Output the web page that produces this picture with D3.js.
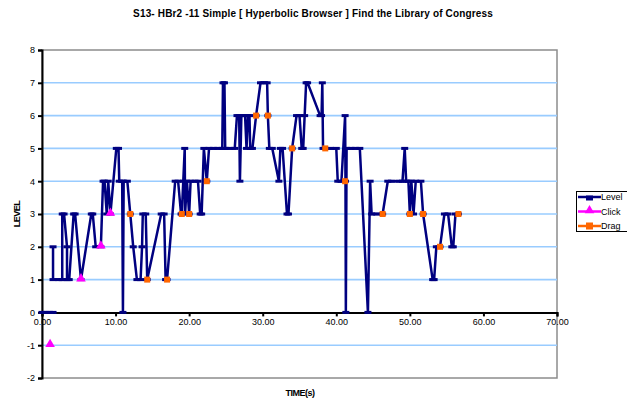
<!DOCTYPE html>
<html><head><meta charset="utf-8">
<script src="https://cdn.jsdelivr.net/npm/d3@7"></script>
<style>body{margin:0;background:#fff}svg{display:block}text{font-family:Arial,"Liberation Sans",sans-serif}</style>
</head><body><svg id="c" width="627" height="400"></svg>
<script>
const titleText = "S13- HBr2 -11 Simple [ Hyperbolic Browser ] Find the Library of Congress";
const xTicks = [0,10,20,30,40,50,60,70];
const yTicks = [-2,-1,0,1,2,3,4,5,6,7,8];
const gridValues = [-1,1,2,3,4,5,6,7];
const seriesNames = ["Level","Click","Drag"];

const levelTime = [0.0,0.5,1.0,1.5,null,1.5,1.5,2.3,2.75,2.75,3.0,3.4,3.4,3.7,4.3,4.5,5.3,6.7,6.9,7.3,8.0,8.3,8.5,8.8,9.0,9.3,
 10.1,10.4,10.5,10.9,11.0,11.1,11.6,12.0,12.4,12.9,13.4,13.6,13.7,14.1,14.3,16.2,16.6,16.8,17.0,18.1,18.5,18.9,19.0,19.2,19.4,19.45,19.7,
 20.0,20.2,20.8,21.2,21.5,21.7,22.0,22.4,22.7,23.3,23.9,24.5,24.6,24.8,24.9,25.5,26.2,26.5,26.8,26.9,27.1,27.6,27.8,28.0,28.2,28.3,28.6,29.1,29.7,
 30.2,30.6,30.7,30.9,31.3,32.2,32.4,32.7,33.3,33.5,34.0,34.6,35.0,35.3,35.5,35.7,35.9,36.1,37.8,38.0,38.1,38.2,38.5,39.2,
 40.0,40.2,40.7,41.2,41.25,41.3,41.4,42.0,42.6,43.2,44.3,44.6,44.8,45.5,46.3,47.0,47.5,48.5,49.0,49.3,49.5,49.8,
 50.0,50.2,50.5,50.8,51.5,51.8,53.1,53.3,53.6,54.1,54.7,55.2,55.7,55.9,56.2,56.6];
const levelValue = [0,0,0,0,null,2,1,1,1,3,3,2,1,1,3,3,1,3,3,2,2,4,4,3,4,3,
 5,5,4,4,0,4,4,3,2,1,1,2,3,3,1,3,3,1,1,4,4,3,3,4,5,3,4,
 3,4,4,4,3,3,5,4,5,5,5,5,7,7,5,5,5,6,6,4,6,6,5,6,6,5,5,6,7,
 7,7,6,5,5,4,5,5,3,3,5,6,6,5,5,6,7,7,6,6,7,5,5,5,
 5,4,4,6,4,0,5,5,5,5,0,4,3,3,3,4,4,4,4,5,4,4,
 3,4,3,4,4,3,1,1,2,2,3,3,2,2,3,3];

const clickTime = [1.1,5.3,8.0,9.3];
const clickValue = [-1,1,2,3];

const dragTime = [12.0,14.3,17.0,19.0,20.0,22.4,29.1,30.7,34.0,38.5,41.2,46.3,50.0,51.8,54.1,56.6];
const dragValue = [3,1,1,3,3,4,6,6,5,5,4,3,3,3,2,3];

const colors = {Level:"#000080", Click:"#FF00FF", Drag:"#FF6600"};

const svg = d3.select("#c");
const x = d3.scaleLinear().domain([0,70]).range([42,557]);
const y = d3.scaleLinear().domain([-2,8]).range([378,50]);

// plot border
svg.append("rect").attr("x",x(0)).attr("y",y(8)).attr("width",x(70)-x(0)).attr("height",y(-2)-y(8))
  .attr("fill","#fff").attr("stroke","#8c8c8c").attr("stroke-width",1.5);

// gridlines
svg.append("g").selectAll("line").data(gridValues).join("line")
  .attr("x1",x(0)).attr("x2",x(70)).attr("y1",d=>y(d)).attr("y2",d=>y(d))
  .attr("stroke","#99CCFF").attr("stroke-width",1.6);

// axes
const yAxis = svg.append("g").attr("transform",`translate(${x(0)},0)`)
  .call(d3.axisLeft(y).tickValues(yTicks).tickSize(4).tickPadding(3).tickFormat(d=>d));
const xAxis = svg.append("g").attr("transform",`translate(0,${y(0)})`)
  .call(d3.axisBottom(x).tickValues(xTicks).tickSize(4).tickPadding(3).tickFormat(d3.format(".2f")));
[yAxis,xAxis].forEach(g=>{
  g.select(".domain").attr("stroke","#000").attr("stroke-width",2);
  g.selectAll(".tick line").attr("stroke","#000").attr("stroke-width",2);
  g.selectAll("text").attr("font-size",9).attr("fill","#000");
});
xAxis.selectAll(".tick text").attr("dy","0.6em");

// level line
const levelData = levelTime.map((t,i)=>({t, v:levelValue[i]}));
const line = d3.line().defined(d=>d.t!==null && d.v!==null).x(d=>x(d.t)).y(d=>y(d.v));
svg.append("path").datum(levelData).attr("d",line).attr("fill","none")
  .attr("stroke",colors.Level).attr("stroke-width",2.5).attr("stroke-linejoin","miter");
svg.append("g").selectAll("rect").data(levelData.filter(d=>d.t!==null)).join("rect")
  .attr("x",d=>x(d.t)-3.5).attr("y",d=>y(d.v)-1.5).attr("width",7).attr("height",3)
  .attr("fill",colors.Level);

// click markers
const tri = d3.symbol().type(d3.symbolTriangle).size(40);
svg.append("g").selectAll("path").data(clickTime.map((t,i)=>({t,v:clickValue[i]}))).join("path")
  .attr("d",tri).attr("transform",d=>`translate(${x(d.t)},${y(d.v)-1})`).attr("fill",colors.Click);

// drag markers
svg.append("g").selectAll("rect").data(dragTime.map((t,i)=>({t,v:dragValue[i]}))).join("rect")
  .attr("x",d=>x(d.t)-3).attr("y",d=>y(d.v)-3).attr("width",6).attr("height",6)
  .attr("fill",colors.Drag);

// title
svg.append("text").attr("x",313).attr("y",17).attr("text-anchor","middle")
  .attr("font-size",10).attr("font-weight","bold").attr("letter-spacing",0.15).text(titleText);
// axis titles
svg.append("text").attr("x",300).attr("y",396).attr("text-anchor","middle")
  .attr("font-size",9).attr("font-weight","bold").attr("letter-spacing",-0.5).text("TIME(s)");
svg.append("text").attr("transform",`translate(20,${(y(8)+y(-2))/2}) rotate(-90)`).attr("text-anchor","middle")
  .attr("font-size",9).attr("font-weight","bold").attr("letter-spacing",-0.5).text("LEVEL");

// legend
const lg = svg.append("g");
lg.append("rect").attr("x",576.5).attr("y",191.5).attr("width",70).attr("height",40)
  .attr("fill","#fff").attr("stroke","#000").attr("stroke-width",1);
seriesNames.forEach((n,i)=>{
  const yy = 197 + i*14.5;
  lg.append("line").attr("x1",578).attr("x2",601).attr("y1",yy).attr("y2",yy)
    .attr("stroke",colors[n]).attr("stroke-width",2.5);
  if(n==="Level") lg.append("rect").attr("x",586).attr("y",yy-1.5).attr("width",7).attr("height",5).attr("fill",colors[n]);
  if(n==="Click") lg.append("path").attr("d",tri).attr("transform",`translate(589.5,${yy-1})`).attr("fill",colors[n]);
  if(n==="Drag") lg.append("rect").attr("x",586).attr("y",yy-3.5).attr("width",7).attr("height",7).attr("fill",colors[n]);
  lg.append("text").attr("x",601).attr("y",yy+3).attr("font-size",9).text(n);
});
</script></body></html>
